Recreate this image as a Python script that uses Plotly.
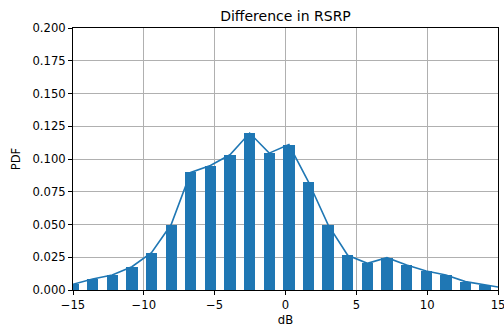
import plotly.graph_objects as go

bin_centers = [-15.0, -13.61, -12.23, -10.84, -9.46, -8.07, -6.69, -5.30, -3.92, -2.53,
               -1.15, 0.24, 1.62, 3.01, 4.39, 5.78, 7.16, 8.55, 9.93, 11.32, 12.70, 14.09, 15.47]
pdf_values = [0.0044, 0.0084, 0.0115, 0.0178, 0.0285, 0.0500, 0.0897, 0.0950, 0.1032, 0.1198,
              0.1045, 0.1110, 0.0826, 0.0497, 0.0265, 0.0204, 0.0247, 0.0191, 0.0145, 0.0115,
              0.0064, 0.0038, 0.0015]
x_ticks = [-15, -10, -5, 0, 5, 10, 15]
y_ticks = [0.0, 0.025, 0.05, 0.075, 0.1, 0.125, 0.15, 0.175, 0.2]

blue = "#1f77b4"
font = "DejaVu Sans"

fig = go.Figure()
fig.add_trace(go.Bar(x=bin_centers, y=pdf_values, width=0.8, marker=dict(color=blue, line=dict(width=0)),
                     showlegend=False))
fig.add_trace(go.Scatter(x=bin_centers, y=pdf_values, mode="lines", line=dict(color=blue, width=1.6),
                         showlegend=False, cliponaxis=True))

axis_common = dict(showline=True, linecolor="black", linewidth=1, mirror=True,
                   ticks="outside", ticklen=4, tickwidth=0.8, tickcolor="black",
                   showgrid=True, gridcolor="#b0b0b0", gridwidth=0.8, zeroline=False,
                   ticklabeloverflow="allow", automargin=False,
                   tickfont=dict(family=font, size=11.6, color="black"))

fig.update_layout(
    width=504, height=330,
    margin=dict(l=73, r=6, t=28, b=40),
    paper_bgcolor="white", plot_bgcolor="white",
    title=dict(text="Difference in RSRP", x=(73 + 498) / 2 / 504, xanchor="center",
               y=1 - 16 / 330, yanchor="middle", font=dict(family=font, size=14, color="black")),
    xaxis=dict(range=[-15, 15], tickvals=x_ticks, title=dict(text="dB", standoff=4,
               font=dict(family=font, size=11.6, color="black")), **axis_common),
    yaxis=dict(range=[0, 0.2], tickvals=y_ticks, tickformat=".3f", title=dict(text="PDF", standoff=9,
               font=dict(family=font, size=11.6, color="black")), **axis_common),
    bargap=0,
)

fig.write_html("out.html")
